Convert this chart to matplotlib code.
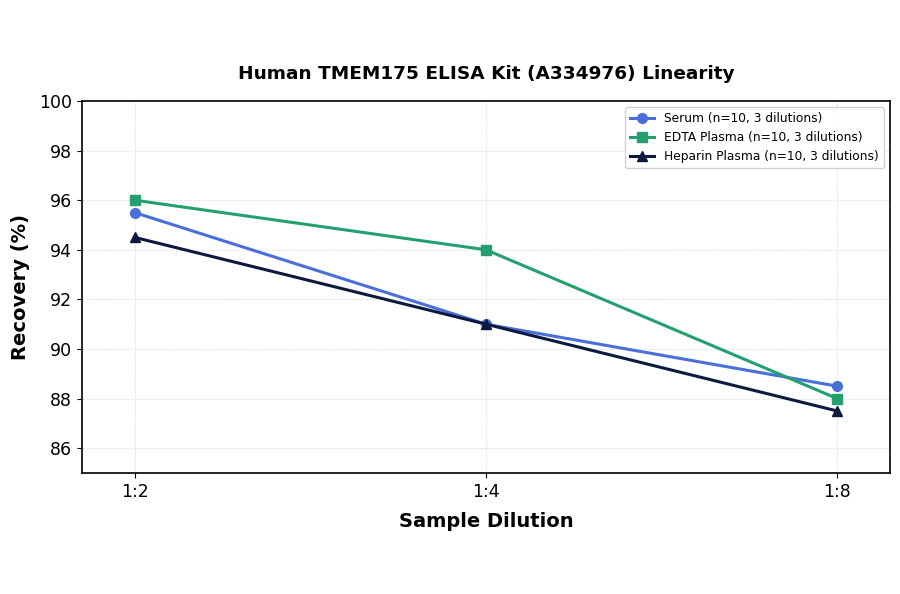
import matplotlib
matplotlib.use("Agg")
import matplotlib.pyplot as plt

dilutions = ["1:2", "1:4", "1:8"]
serum = [95.5, 91.0, 88.5]
edta = [96.0, 94.0, 88.0]
heparin = [94.5, 91.0, 87.5]
labels = ["Serum (n=10, 3 dilutions)", "EDTA Plasma (n=10, 3 dilutions)", "Heparin Plasma (n=10, 3 dilutions)"]
colors = ["#4a6fd8", "#23a06e", "#0d1a40"]
markers = ["o", "s", "^"]

fig = plt.figure(figsize=(9, 5.94), dpi=100)
ax = fig.add_axes([82/900, 1-473/594, (890-82)/900, (473-101)/594])
x = list(range(len(dilutions)))
for vals, lab, c, m in zip([serum, edta, heparin], labels, colors, markers):
    ax.plot(x, vals, color=c, marker=m, linewidth=2.2, markersize=7, label=lab)
ax.set_xticks(x)
ax.set_xticklabels(dilutions, fontsize=12)
ax.set_xlim(-0.15, 2.15)
ax.set_ylim(85, 100)
ax.set_yticks([86, 88, 90, 92, 94, 96, 98, 100])
ax.tick_params(axis='y', labelsize=12.5)
ax.tick_params(axis='x', labelsize=12.5)
for s in ax.spines.values():
    s.set_linewidth(1.2)
ax.grid(True, linestyle='--', linewidth=0.6, alpha=0.35)
ax.set_xlabel("Sample Dilution", fontsize=14, fontweight='bold', labelpad=8)
ax.set_ylabel("Recovery (%)", fontsize=14, fontweight='bold', labelpad=7)
ax.set_title("Human TMEM175 ELISA Kit (A334976) Linearity", fontsize=13.3, fontweight='bold', pad=16)
ax.legend(loc='upper right', fontsize=8.8, framealpha=0.9)
fig.savefig("out.png", dpi=100)
